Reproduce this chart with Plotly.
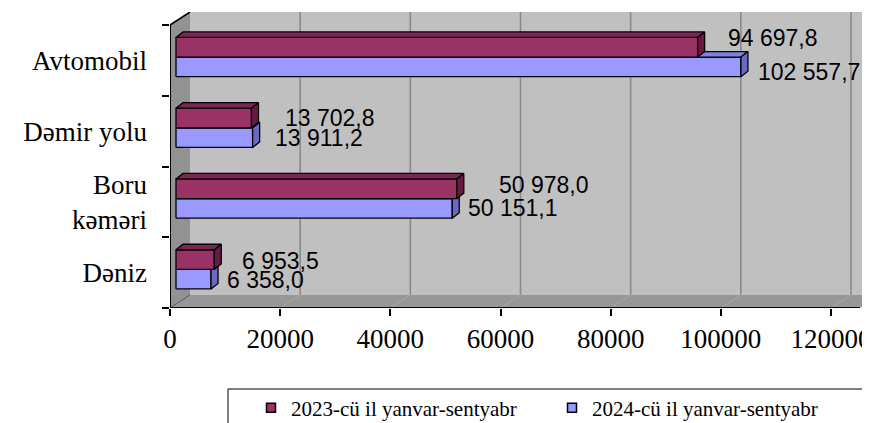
import plotly.graph_objects as go

# data
CATEGORIES = ["Avtomobil", "Dəmir yolu", "Boru<br>kəməri", "Dəniz"]
VALUES_2023 = [94697.8, 13702.8, 50978.0, 6953.5]
VALUES_2024 = [102557.7, 13911.2, 50151.1, 6358.0]
SERIES = ["2023-cü il yanvar-sentyabr", "2024-cü il yanvar-sentyabr"]
X_TICKS = [0, 20000, 40000, 60000, 80000, 100000, 120000]

# label nudges in px (dx, dy), same order as CATEGORIES
SHIFT_2023 = [(28, 9), (32, 0), (40, 4), (26, -1)]
SHIFT_2024 = [(15, -5), (20, 0), (14, 0), (14, -1)]

COL_2023 = dict(front="#993366", top="#7d2553", side="#661a42")
COL_2024 = dict(front="#9999FF", top="#8080dd", side="#6a6ac0")

# page is 870x423, the html body adds an 8px margin
PAGE_W, PAGE_H, BODY = 870, 423, 8
PLOT_L, PLOT_T, PLOT_B, PLOT_R = 170, 12, 308, 870   # plot area in page px
W, H = PAGE_W - BODY, PAGE_H - BODY
ML, MT = PLOT_L - BODY, PLOT_T - BODY
MR, MB = PAGE_W - PLOT_R, PAGE_H - PLOT_B
PW, PH = PLOT_R - PLOT_L, PLOT_B - PLOT_T

# px -> data unit conversion
XPX = 120000 / 661
YPX = 4 / 283
X_MAX = PW * XPX
Y_MIN = -0.5
Y_MAX = Y_MIN + PH * YPX
AXIS_END = 690 * XPX
WALL_DX, WALL_DY = 20 * XPX, 13 * YPX
BAR_X0 = 6 * XPX
BAR_DX, BAR_DY = 7 * XPX, 5.5 * YPX
BAR_H = 19.6 * YPX
BAR_MID = 3.3 * YPX

ypos = [len(CATEGORIES) - 1 - i for i in range(len(CATEGORIES))]


def fmt(v):
    return f"{v:,.1f}".replace(",", " ").replace(".", ",")


def px_to_paper(x=None, y=None):
    if x is not None:
        return (x - PLOT_L) / PW
    return (PLOT_B - y) / PH


def bar_faces(values, lower):
    fx, fy, tx, ty, sx, sy = [], [], [], [], [], []
    for v, c in zip(values, ypos):
        y0 = c + BAR_MID - (BAR_H if lower else 0)
        y1 = y0 + BAR_H
        x0, x1 = BAR_X0, BAR_X0 + v
        fx += [x0, x1, x1, x0, x0, None]
        fy += [y0, y0, y1, y1, y0, None]
        tx += [x0, x1, x1 + BAR_DX, x0 + BAR_DX, x0, None]
        ty += [y1, y1, y1 + BAR_DY, y1 + BAR_DY, y1, None]
        sx += [x1, x1 + BAR_DX, x1 + BAR_DX, x1, x1, None]
        sy += [y0, y0 + BAR_DY, y1 + BAR_DY, y1, y0, None]
    return (fx, fy), (tx, ty), (sx, sy)


fig = go.Figure()

# lower bar (2024) first, then 2023 sitting on top of it
for values, cols, lower in [(VALUES_2024, COL_2024, True), (VALUES_2023, COL_2023, False)]:
    front, top, side = bar_faces(values, lower)
    for (xs, ys), key in [(front, "front"), (top, "top"), (side, "side")]:
        fig.add_trace(go.Scatter(
            x=xs, y=ys,
            mode="lines",
            fill="toself",
            fillcolor=cols[key],
            line=dict(color="#000000", width=1.3),
            hoverinfo="skip",
            showlegend=False,
        ))

# legend entries
for name, cols in zip(SERIES, [COL_2023, COL_2024]):
    fig.add_trace(go.Scatter(
        x=[None], y=[None],
        mode="markers",
        name=name,
        marker=dict(symbol="square", size=9, color=cols["front"],
                    line=dict(color="#000000", width=1.5)),
    ))

# value labels
for values, shifts, lower in [(VALUES_2023, SHIFT_2023, False), (VALUES_2024, SHIFT_2024, True)]:
    for v, c, (dx, dy) in zip(values, ypos, shifts):
        yc = c + BAR_MID + (-BAR_H / 2 if lower else BAR_H / 2)
        fig.add_annotation(
            x=BAR_X0 + v, y=yc, text=fmt(v),
            showarrow=False, xanchor="left", yanchor="middle",
            xshift=dx, yshift=dy,
            font=dict(family="Liberation Sans", size=23, color="#000000"),
        )

# 3D walls
fig.add_shape(type="rect", x0=WALL_DX, x1=X_MAX * 1.1, y0=Y_MIN + WALL_DY, y1=Y_MAX + 1,
              fillcolor="#c0c0c0", line=dict(width=0), layer="below")
for v in X_TICKS[1:]:
    fig.add_shape(type="line", x0=v + WALL_DX, x1=v + WALL_DX, y0=Y_MIN + WALL_DY, y1=Y_MAX + 1,
                  line=dict(color="#8a8a8a", width=1.6), layer="below")
fig.add_shape(type="path",
              path=f"M 0 {Y_MIN} L 0 3.5 L {WALL_DX} {3.5 + WALL_DY} L {WALL_DX} {Y_MIN + WALL_DY} Z",
              fillcolor="#929292", line=dict(width=0), layer="below")
fig.add_shape(type="path",
              path=(f"M 0 {Y_MIN} L {AXIS_END} {Y_MIN} L {AXIS_END + WALL_DX} {Y_MIN + WALL_DY} "
                    f"L {WALL_DX} {Y_MIN + WALL_DY} Z"),
              fillcolor="#979797", line=dict(width=0), layer="below")
for v in X_TICKS[1:]:
    fig.add_shape(type="line", x0=v, x1=v + WALL_DX, y0=Y_MIN, y1=Y_MIN + WALL_DY,
                  line=dict(color="#a9a9a9", width=1), layer="below")

# axis edges
fig.add_shape(type="line", x0=0, x1=0, y0=Y_MIN, y1=3.5, line=dict(color="#000000", width=2))
fig.add_shape(type="line", x0=0, x1=WALL_DX, y0=3.5, y1=3.5 + WALL_DY, line=dict(color="#000000", width=1.5))
fig.add_shape(type="line", x0=0, x1=WALL_DX, y0=Y_MIN, y1=Y_MIN + WALL_DY, line=dict(color="#555555", width=1))
fig.add_shape(type="line", x0=0, x1=AXIS_END, y0=Y_MIN, y1=Y_MIN, line=dict(color="#000000", width=2))

# legend frame
fig.add_shape(type="rect", xref="paper", yref="paper",
              x0=px_to_paper(x=228), x1=1.1,
              y0=px_to_paper(y=389), y1=-0.6,
              line=dict(color="#000000", width=1), fillcolor="rgba(0,0,0,0)")

fig.update_layout(
    width=W, height=H,
    margin=dict(l=ML, r=MR, t=MT, b=MB, autoexpand=False),
    paper_bgcolor="white",
    plot_bgcolor="white",
    xaxis=dict(
        range=[0, X_MAX],
        automargin=False,
        ticklabeloverflow="allow",
        tickvals=X_TICKS,
        ticktext=[str(t) for t in X_TICKS],
        ticks="outside", ticklen=7, tickwidth=1.5, tickcolor="#000000",
        showgrid=False, zeroline=False, showline=False,
        tickfont=dict(family="Liberation Serif", size=27, color="#000000"),
    ),
    yaxis=dict(
        range=[Y_MIN, Y_MAX],
        automargin=False,
        tickvals=ypos,
        ticktext=CATEGORIES,
        ticks="",
        ticklabelstandoff=22,
        showgrid=False, zeroline=False, showline=False,
        tickfont=dict(family="Liberation Serif", size=27, color="#000000"),
        minor=dict(tickvals=[Y_MIN + i for i in range(len(CATEGORIES) + 1)],
                   ticks="outside", ticklen=7, tickwidth=1.5, tickcolor="#000000",
                   showgrid=False),
    ),
    legend=dict(
        orientation="h",
        x=px_to_paper(x=251), xanchor="left",
        y=px_to_paper(y=408), yanchor="middle",
        font=dict(family="Liberation Serif", size=21, color="#000000"),
        bgcolor="rgba(0,0,0,0)",
        entrywidth=256, entrywidthmode="pixels",
    ),
)

fig.write_html("out.html")
